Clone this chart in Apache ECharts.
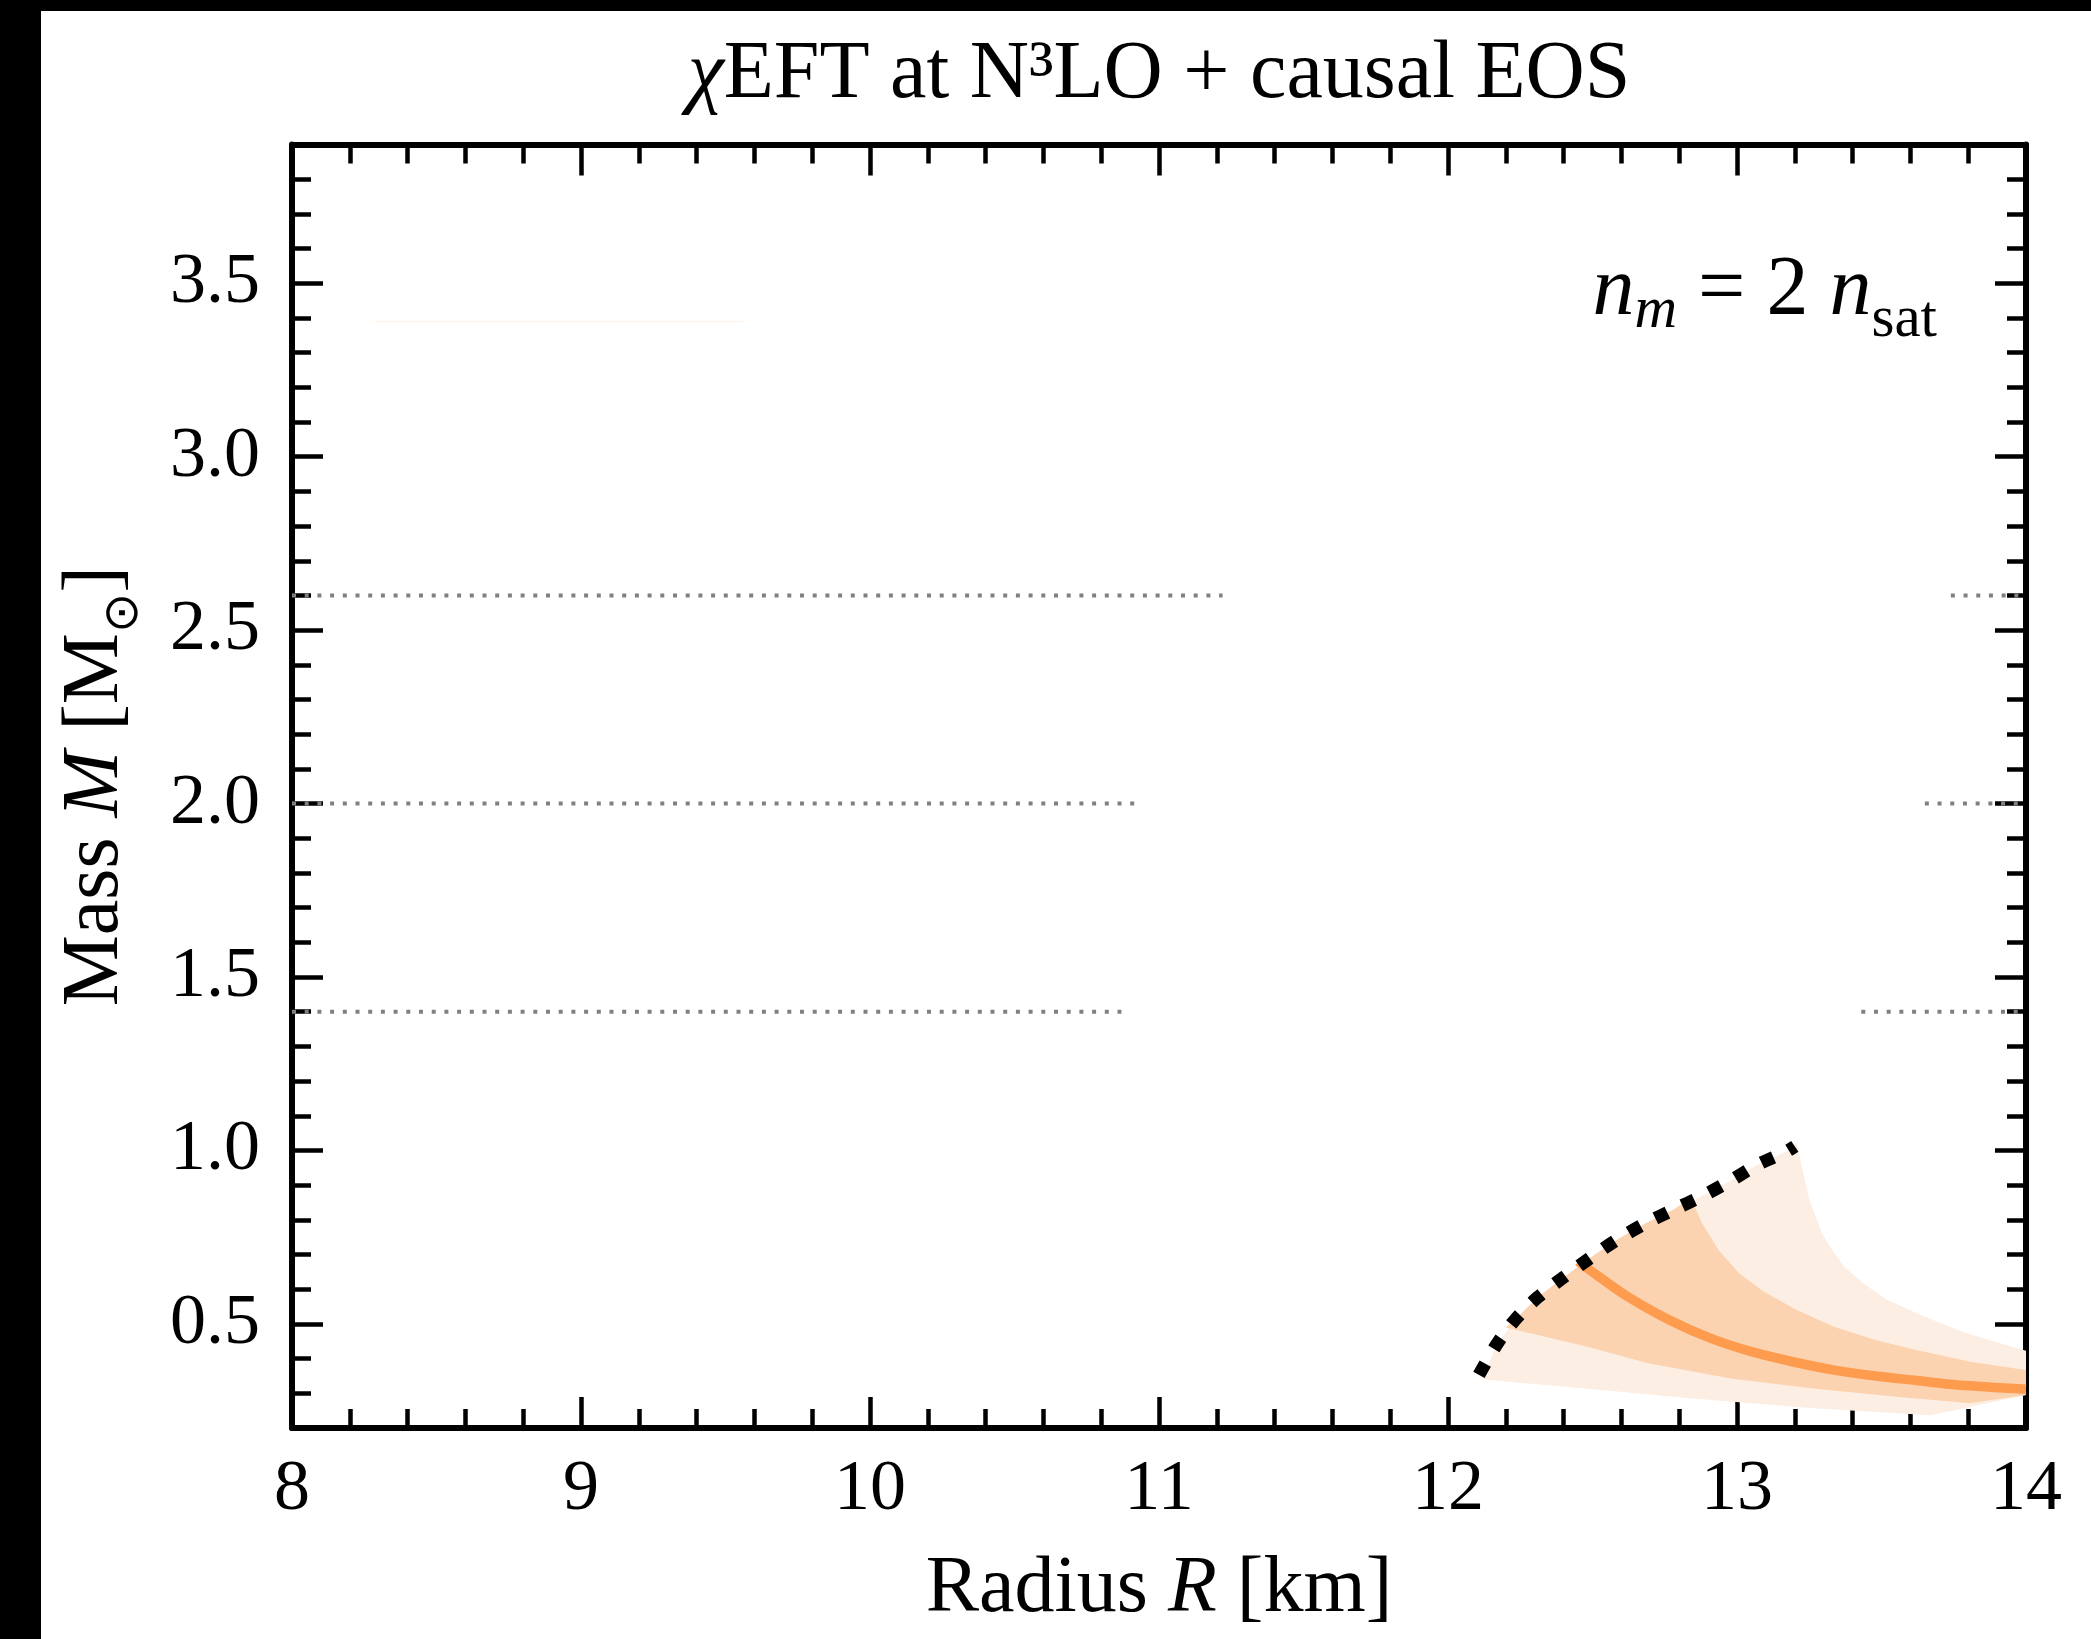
<!DOCTYPE html>
<html lang="en">
<head>
    <meta charset="UTF-8">
    <title>Mass-radius</title>
    <style>
        *{
            padding:0;
            margin:0;
        }
    </style>
    <script src="https://cdn.jsdelivr.net/npm/echarts@6/dist/echarts.min.js"></script>
</head>
<body>
    <div id="main" style="width: 2091px;height: 1639px;"></div>
    <script>
        // everything: [radius R (km), mass M (Msun)]
        var envelopeLine = [
            [12.107, 0.353], [12.167, 0.439], [12.233, 0.513], [12.311, 0.577], [12.404, 0.637],
            [12.490, 0.689], [12.583, 0.742], [12.679, 0.788], [12.779, 0.829], [12.876, 0.867],
            [12.974, 0.911], [13.071, 0.959], [13.171, 0.997], [13.200, 1.012]
        ];
        var outerBand = [
            [12.121, 0.340], [12.167, 0.439], [12.233, 0.513], [12.311, 0.577], [12.404, 0.637],
            [12.490, 0.689], [12.583, 0.742], [12.679, 0.788], [12.779, 0.829], [12.876, 0.867],
            [12.974, 0.911], [13.071, 0.959], [13.171, 0.997], [13.207, 1.022],
            [13.229, 0.935], [13.250, 0.858], [13.293, 0.762], [13.329, 0.713], [13.371, 0.665],
            [13.436, 0.617], [13.521, 0.569], [13.650, 0.521], [13.793, 0.473], [14.000, 0.423],
            [14.000, 0.295], [13.671, 0.237], [13.264, 0.257], [12.836, 0.286], [12.407, 0.319]
        ];
        var innerBand = [
            [12.200, 0.490], [12.233, 0.513], [12.311, 0.577], [12.404, 0.637], [12.490, 0.689],
            [12.583, 0.742], [12.679, 0.788], [12.779, 0.829], [12.840, 0.862],
            [12.879, 0.790], [12.936, 0.713], [13.007, 0.646], [13.093, 0.593], [13.207, 0.540],
            [13.336, 0.492], [13.479, 0.454], [13.621, 0.425], [13.807, 0.391], [14.000, 0.367],
            [14.000, 0.295], [13.807, 0.271], [13.550, 0.290], [13.264, 0.314], [12.979, 0.343],
            [12.693, 0.387], [12.479, 0.435]
        ];
        var medianLine = [
            [12.450, 0.680], [12.521, 0.637], [12.621, 0.579], [12.764, 0.512], [12.907, 0.459],
            [13.050, 0.420], [13.193, 0.391], [13.336, 0.367], [13.479, 0.350], [13.621, 0.337],
            [13.764, 0.324], [14.000, 0.312]
        ];
        var faintLine = [[8.29, 3.39], [9.56, 3.39]];

        // dotted reference masses, each broken in the middle
        var refMass = [1.4, 2.0, 2.6];
        var refLeftEnd = [10.87, 10.93, 11.22];
        var refRightStart = [13.43, 13.65, 13.74];

        var FONT = 'Liberation Serif';
        var myChart = echarts.init(document.getElementById('main'));

        function polygonRender(points, color) {
            return function (params, api) {
                return {
                    type: 'polygon',
                    shape: { points: points.map(function (p) { return api.coord(p); }) },
                    style: { fill: color }
                };
            };
        }

        function frameAxis(position, min, max, extra) {
            var ax = {
                type: 'value',
                position: position,
                min: min,
                max: max,
                axisLine: { show: true, onZero: false, lineStyle: { color: '#000', width: 6 } },
                axisTick: { show: true, inside: true, length: 31, lineStyle: { color: '#000', width: 4.5 } },
                minorTick: { show: true, splitNumber: 5, length: 19, lineStyle: { color: '#000', width: 4.5 } },
                splitLine: { show: false },
                minorSplitLine: { show: false },
                axisLabel: { show: false }
            };
            for (var k in extra) ax[k] = extra[k];
            return ax;
        }

        var nameRich = {
            r: { fontFamily: FONT, fontSize: 80, color: '#000', verticalAlign: 'bottom', padding: [0, 0, 17, 0] },
            i: { fontFamily: FONT, fontSize: 80, fontStyle: 'italic', color: '#000', verticalAlign: 'bottom', padding: [0, 0, 17, 0] },
            s: { fontFamily: 'DejaVu Sans', fontSize: 48, color: '#000', verticalAlign: 'bottom', padding: [0, 0, 4, 0] }
        };

        var series = [
            { type: 'custom', renderItem: polygonRender(outerBand, '#fdeee3'), data: [[13, 0.5]], silent: true },
            { type: 'custom', renderItem: polygonRender(innerBand, '#fcd3b0'), data: [[13, 0.5]], silent: true }
        ];
        for (var i = 0; i < refMass.length; i++) {
            var dotted = { color: '#808080', width: 4, type: [4, 8.7], cap: 'butt' };
            series.push({ type: 'line', data: [[8, refMass[i]], [refLeftEnd[i], refMass[i]]],
                symbol: 'none', lineStyle: dotted, silent: true });
            series.push({ type: 'line', data: [[refRightStart[i], refMass[i]], [14, refMass[i]]],
                symbol: 'none', lineStyle: dotted, silent: true });
        }
        series.push({ type: 'line', data: faintLine, symbol: 'none', silent: true,
            lineStyle: { color: '#fef4ec', width: 1.5 } });
        series.push({ type: 'line', data: medianLine, symbol: 'none', smooth: 0.3, silent: true,
            lineStyle: { color: '#fd9b4f', width: 9.5 } });
        series.push({ type: 'line', data: envelopeLine, symbol: 'none', smooth: 0.3, silent: true,
            lineStyle: { color: '#000', width: 13, type: [13, 17], cap: 'butt' } });

        var option = {
            backgroundColor: '#fff',
            animation: false,
            grid: { left: 292, right: 65, top: 144.5, bottom: 211, containLabel: false, outerBoundsMode: 'none' },
            xAxis: [
                frameAxis('bottom', 8, 14, {
                    interval: 1,
                    axisLabel: { show: true, fontFamily: FONT, fontSize: 72, color: '#000', margin: 26 },
                    name: '{r|Radius }{i|R}{r| [km]}',
                    nameLocation: 'middle',
                    nameGap: 122,
                    nameMoveOverlap: false,
                    nameTextStyle: {
                        rich: {
                            r: { fontFamily: FONT, fontSize: 80, color: '#000' },
                            i: { fontFamily: FONT, fontSize: 80, fontStyle: 'italic', color: '#000' }
                        }
                    }
                }),
                frameAxis('top', 8, 14, { interval: 1 })
            ],
            yAxis: [
                frameAxis('left', 0.2, 3.9, {
                    splitNumber: 7,
                    axisLabel: {
                        show: true, fontFamily: FONT, fontSize: 72, color: '#000', margin: 32,
                        showMinLabel: false, showMaxLabel: false,
                        formatter: function (v) { return v.toFixed(1); }
                    },
                    name: '{r|Mass }{i|M}{r| [M}{s|⊙}{r|]}',
                    nameLocation: 'middle',
                    nameRotate: 90,
                    nameGap: 139,
                    nameMoveOverlap: false,
                    nameTextStyle: { rich: nameRich }
                }),
                frameAxis('right', 0.2, 3.9, { splitNumber: 7 })
            ],
            graphic: [
                { type: 'rect', shape: { x: 0, y: 0, width: 41, height: 1639 }, style: { fill: '#000' }, z: 100 },
                { type: 'rect', shape: { x: 0, y: 0, width: 2091, height: 11 }, style: { fill: '#000' }, z: 100 },
                {
                    type: 'text', z: 100,
                    style: {
                        x: 1159, y: 75, align: 'center', verticalAlign: 'middle',
                        text: '{i|χ}{r|EFT at N³LO + causal EOS}',
                        rich: {
                            i: { fontFamily: FONT, fontSize: 82, fontStyle: 'italic', fill: '#000' },
                            r: { fontFamily: FONT, fontSize: 82, fill: '#000' }
                        }
                    }
                },
                {
                    type: 'text', z: 100,
                    style: {
                        x: 1937, y: 352, align: 'right', verticalAlign: 'bottom',
                        text: '{i|n}{si|m}{r| = 2 }{i|n}{ss|sat}',
                        rich: {
                            i: { fontFamily: FONT, fontSize: 84, fontStyle: 'italic', fill: '#000', verticalAlign: 'bottom', padding: [0, 0, 18, 0] },
                            r: { fontFamily: FONT, fontSize: 84, fill: '#000', verticalAlign: 'bottom', padding: [0, 0, 18, 0] },
                            si: { fontFamily: FONT, fontSize: 59, fontStyle: 'italic', fill: '#000', verticalAlign: 'bottom', padding: [0, 0, 11, 0] },
                            ss: { fontFamily: FONT, fontSize: 59, fill: '#000', verticalAlign: 'bottom', padding: [0, 0, 2, 0] }
                        }
                    }
                }
            ],
            series: series
        };
        myChart.setOption(option);
    </script>
</body>
</html>
